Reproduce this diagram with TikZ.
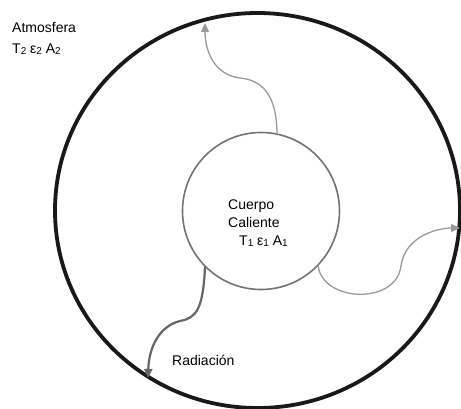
\documentclass[tikz,border=0pt]{standalone}
\usepackage{fontspec}
\setmainfont{Liberation Sans}
\usetikzlibrary{arrows.meta,shapes.geometric}
\newcommand{\lowsub}[1]{{\fontsize{10}{10}\selectfont\raisebox{-0.5pt}{#1}}}
\begin{document}
\begin{tikzpicture}[x=1pt,y=-1pt,
  lbl/.style={font=\fontsize{14}{16}\selectfont, inner sep=0pt, anchor=base west},
  outer/.style={ellipse, draw=black!90, line width=3.8pt, inner sep=0pt, minimum width=405pt, minimum height=395pt},
  inner/.style={circle, draw=black!55, line width=1.6pt, inner sep=0pt, minimum size=157pt},
  ray/.style={draw=black!40, line width=1.3pt, -{Triangle[length=9pt,width=8pt]}},
  rayd/.style={draw=black!60, line width=2.2pt, -{Triangle[length=9pt,width=8pt]}}]
\useasboundingbox (0,0) rectangle (461,409);
\node[outer] (atm) at (257.5,210.5) {};
\node[inner] (body) at (261,211) {};
\node[lbl] (atmt) at (12,33) {Atmosfera};
\node[lbl] (atmv) at (12,54) {T\lowsub{2} ε\lowsub{2} A\lowsub{2}};
\node[lbl] (cu) at (228,210) {Cuerpo};
\node[lbl] (ca) at (228,228) {Caliente};
\node[lbl] (bv) at (239,246) {T\lowsub{1} ε\lowsub{1} A\lowsub{1}};
\node[lbl] (rad) at (172,365) {Radiación};
\coordinate (s1) at (277,135);
\coordinate (e1) at (205,23);
\coordinate (s2) at (318,264);
\coordinate (e2) at (460,228);
\coordinate (s3) at (205,267);
\coordinate (e3) at (148,378);
\draw[ray] (s1) .. controls (277,92) and (260,80) .. (240,78) .. controls (215,75) and (205,52) .. (e1);
\draw[ray] (s2) .. controls (320,302) and (396,306) .. (401,266) .. controls (405,236) and (438,228) .. (e2);
\draw[rayd] (s3) .. controls (203,310) and (196,318) .. (180,321) .. controls (160,326) and (149,346) .. (e3);
\end{tikzpicture}
\end{document}
